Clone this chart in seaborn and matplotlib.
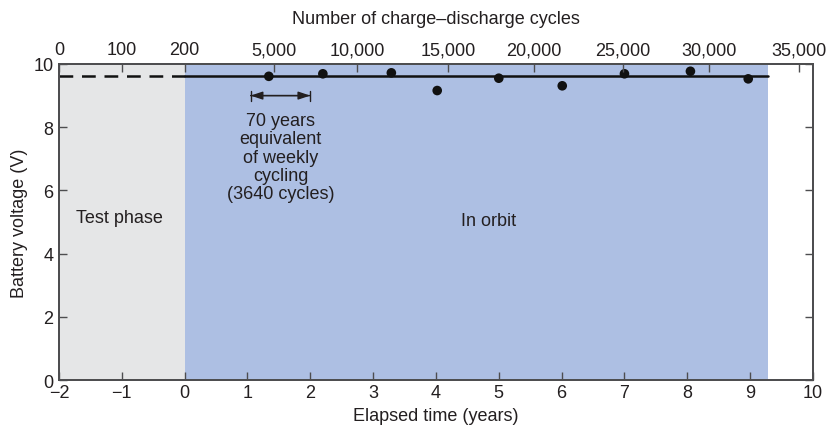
import matplotlib
matplotlib.use("Agg")
import matplotlib.pyplot as plt
import seaborn as sns
import pandas as pd

# Data
years = [1.34, 2.20, 3.29, 4.02, 5.00, 6.01, 7.00, 8.05, 8.97]
voltage = [9.61, 9.69, 9.72, 9.16, 9.55, 9.31, 9.69, 9.77, 9.53]
test_span = [-2.0, 0.0]
orbit_span = [0.0, 9.29]
level = 9.62
cycle_labels = ["0", "100", "200", "5,000", "10,000", "15,000", "20,000",
                "25,000", "30,000", "35,000"]
cycle_pos = [-2.0, -1.0, 0.0, 1.42, 2.75, 4.19, 5.56, 6.97, 8.34, 9.78]
arrow_span = [1.05, 2.0]

sns.set_theme(style="white")
plt.rcParams["font.family"] = ["Liberation Sans", "DejaVu Sans"]
ink = "#231f20"
spine = "#4d4d4f"

fig = plt.figure(figsize=(8.27, 4.35), dpi=100)
ax = fig.add_axes([0.0713, 0.124, 0.9117, 0.7266])

ax.axvspan(*test_span, color="#e5e6e7", lw=0, zorder=0)
ax.axvspan(*orbit_span, color="#adbfe3", lw=0, zorder=0)

ax.plot(test_span, [level, level], color="#111111", lw=1.8,
        dashes=(5.5, 3.5), zorder=2)
ax.plot(orbit_span, [level, level], color="#111111", lw=1.8, zorder=2)

df = pd.DataFrame({"years": years, "voltage": voltage})
sns.scatterplot(data=df, x="years", y="voltage", ax=ax, color="#111111",
                s=48, edgecolor="none", zorder=3)

ax.annotate("", xy=(arrow_span[1], 9.0), xytext=(arrow_span[0], 9.0),
            arrowprops=dict(arrowstyle="|-|,widthA=0.3,widthB=0.3",
                            color=ink, lw=1.0, shrinkA=0, shrinkB=0))
ax.annotate("", xy=(arrow_span[1], 9.0), xytext=(arrow_span[0], 9.0),
            arrowprops=dict(arrowstyle="<|-|>,head_length=0.6,head_width=0.2",
                            color=ink, lw=1.0, shrinkA=0, shrinkB=0))
ax.text(1.53, 7.05, "70 years\nequivalent\nof weekly\ncycling\n(3640 cycles)",
        ha="center", va="center", fontsize=13, color=ink, linespacing=1.1)
ax.text(-1.03, 5.13, "Test phase", ha="center", va="center",
        fontsize=13, color=ink)
ax.text(4.83, 5.06, "In orbit", ha="center", va="center",
        fontsize=13, color=ink)

ax.set_xlim(-2, 10)
ax.set_ylim(0, 10)
ax.set_xticks(range(-2, 11))
ax.set_xticklabels(["\u22122", "\u22121"] + [str(i) for i in range(0, 11)])
ax.set_yticks(range(0, 11, 2))
ax.set_xlabel("Elapsed time (years)", fontsize=13, color=ink, labelpad=4)
ax.set_ylabel("Battery voltage (V)", fontsize=13, color=ink, labelpad=4)
ax.tick_params(axis="both", direction="in", length=6, width=1.0,
               colors=spine, labelcolor=ink, labelsize=13, pad=3,
               right=True, bottom=True, left=True)
ax.tick_params(axis="y", pad=4)

top = ax.twiny()
top.set_xlim(ax.get_xlim())
top.set_xticks(cycle_pos)
top.set_xticklabels(cycle_labels)
top.tick_params(axis="x", direction="in", length=6, width=1.0,
                colors=spine, labelcolor=ink, labelsize=13, pad=4)
top.set_xlabel("Number of charge\u2013discharge cycles", fontsize=13,
               color=ink, labelpad=13)

for a in (ax, top):
    for s in a.spines.values():
        s.set_color(spine)
        s.set_linewidth(1.3)

fig.savefig("out.png", dpi=100)
